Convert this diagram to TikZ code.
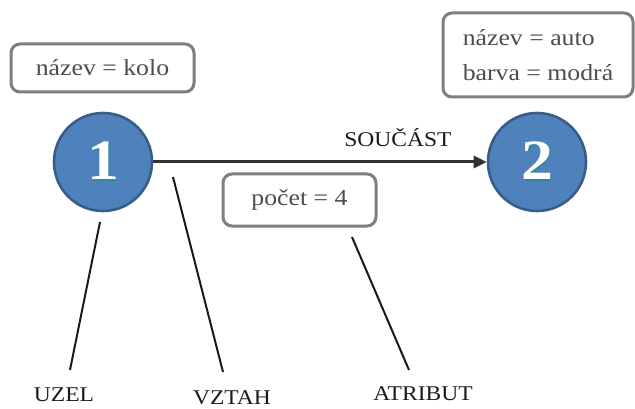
\documentclass[tikz,border=0pt]{standalone}
\usepackage{fontspec}
\setmainfont[FakeStretch=1.12]{Liberation Serif}
\usetikzlibrary{arrows.meta}
\definecolor{nodeblue}{HTML}{4F81BD}
\definecolor{nodeedge}{HTML}{385D8A}
\definecolor{boxedge}{HTML}{7F7F7F}
\definecolor{boxtext}{HTML}{4D4D4D}
\definecolor{digitshade}{HTML}{2E8A9C}
\definecolor{ink}{HTML}{1A1A1A}
\newcommand{\shadeddigit}[1]{%
  \makebox[0pt][l]{\hspace{1.4pt}\raisebox{-1.8pt}{\color{digitshade}#1}}%
  {\color{white}#1}}
\tikzset{
  txt/.style={font=\fontsize{21}{35}\selectfont},
  boxtxt/.style={font=\fontsize{23}{35}\selectfont},
  attrbox/.style={boxtxt, draw=boxedge, line width=3pt, rounded corners=9pt,
    fill=white, text=boxtext, inner sep=0pt, align=center},
  entity/.style={circle, draw=nodeedge, line width=2.6pt, fill=nodeblue,
    minimum size=98pt, inner sep=0pt, font=\fontsize{57}{57}\selectfont\bfseries},
  caption/.style={txt, text=ink, anchor=base},
  pointer/.style={ink, line width=2pt},
  relation/.style={draw=ink!90, line width=3pt, -{Triangle[length=13pt,width=12pt]}}
}
\begin{document}
\begin{tikzpicture}[x=1pt, y=-1pt]
  \useasboundingbox (0,0) rectangle (635,409);

  % attribute boxes
  \node[attrbox, minimum width=183pt, minimum height=48pt] (b1) at (102.5,68) {název = kolo};
  \node[attrbox, minimum width=190pt, minimum height=84pt, align=left] (b2) at (538,55)
    {název = auto\\barva = modrá};
  \node[attrbox, minimum width=153pt, minimum height=52pt] (b3) at (299.5,200) {počet = 4};

  % entities
  \node[entity] (n1) at (103,162) {\shadeddigit{1}};
  \node[entity] (n2) at (537,162) {\shadeddigit{2}};

  % relationship
  \draw[relation] (n1) -- (n2);
  \node[caption] (rel) at (398,147) {SOUČÁST};

  % captions with pointer lines
  \node[caption] (uzel) at (64,401) {UZEL};
  \node[caption] (vztah) at (232,404) {VZTAH};
  \node[caption] (atribut) at (423,400) {ATRIBUT};

  \coordinate (p1a) at (100,222);
  \coordinate (p1b) at (70,370);
  \coordinate (p2a) at (173,177);
  \coordinate (p2b) at (223,372);
  \coordinate (p3a) at (352,237);
  \coordinate (p3b) at (409,370);
  \draw[pointer] (p1a) -- (p1b);
  \draw[pointer] (p2a) -- (p2b);
  \draw[pointer] (p3a) -- (p3b);
\end{tikzpicture}
\end{document}
